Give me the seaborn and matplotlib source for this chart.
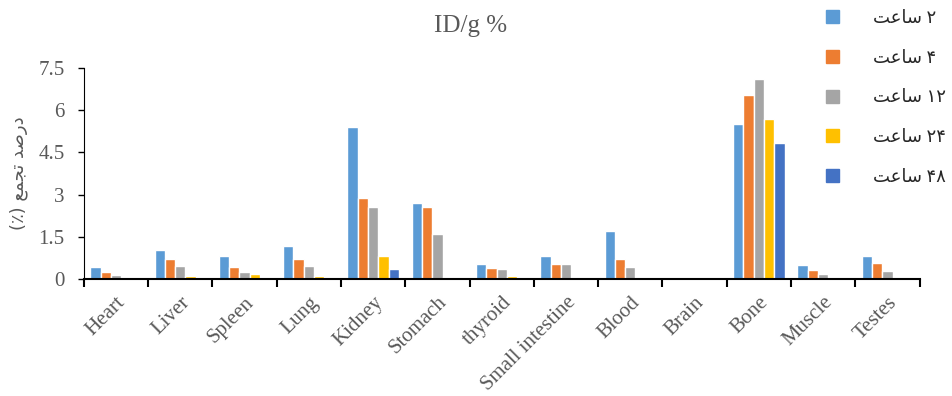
import pandas as pd
import matplotlib
matplotlib.use("Agg")
import matplotlib.pyplot as plt
import seaborn as sns
import numpy as np

# organs on the x axis
organs = ['Heart', 'Liver', 'Spleen', 'Lung', 'Kidney', 'Stomach', 'thyroid',
          'Small intestine', 'Blood', 'Brain', 'Bone', 'Muscle', 'Testes']

# %ID/g per time point
h2 = [0.43, 1.03, 0.82, 1.17, 5.41, 2.70, 0.53, 0.82, 1.70, 0.04, 5.50, 0.50, 0.80]
h4 = [0.25, 0.71, 0.43, 0.71, 2.88, 2.57, 0.40, 0.54, 0.71, 0.02, 6.55, 0.32, 0.56]
h12 = [0.15, 0.47, 0.25, 0.46, 2.56, 1.60, 0.35, 0.55, 0.44, 0.01, 7.10, 0.18, 0.27]
h24 = [0.02, 0.10, 0.18, 0.10, 0.82, 0.06, 0.10, 0.05, 0.03, 0.00, 5.68, 0.02, 0.05]
h48 = [0.01, 0.02, 0.03, 0.03, 0.36, 0.03, 0.04, 0.00, 0.00, 0.00, 4.83, 0.00, 0.02]

# Persian labels, pre-shaped (presentation forms, visual order) since matplotlib has no bidi
saat = '\uFE96\uFECB\uFE8E\uFEB3'   # ساعت
time_labels = [saat + ' ۲', saat + ' ۴', saat + ' ۱۲', saat + ' ۲۴', saat + ' ۴۸']
ylabel = '(٪) ' + '\uFECA\uFEE4\uFEA0\uFE97' + ' ' + '\uFEAA\uFEBB\uFEAD\uFEA9'  # درصد تجمع (٪)

colors = ['#5B9BD5', '#ED7D31', '#A5A5A5', '#FFC000', '#4472C4']

df = pd.DataFrame({'Organ': organs, time_labels[0]: h2, time_labels[1]: h4,
                   time_labels[2]: h12, time_labels[3]: h24, time_labels[4]: h48})
df_melted = df.melt(id_vars=['Organ'], var_name='Time', value_name='Value')

sns.set_style('white')
plt.rcParams['font.family'] = ['Liberation Serif', 'DejaVu Sans']

fig = plt.figure(figsize=(9.53, 3.96), dpi=100)
ax = fig.add_axes([0.088, 0.2955, 0.877, 0.533])

sns.barplot(data=df_melted, x='Organ', y='Value', hue='Time', palette=colors,
            saturation=1, width=0.8, edgecolor='white', linewidth=1.0, ax=ax,
            legend=False)

ax.set_xlim(-0.5, 12.5)
ax.set_ylim(0, 7.5)
ax.set_yticks([0, 1.5, 3, 4.5, 6, 7.5])
ax.set_yticklabels(['0', '1.5', '3', '4.5', '6', '7.5'])
ax.tick_params(axis='y', direction='out', length=4, width=1, color='black',
               labelsize=15, labelcolor='#595959', left=True, pad=10)

# category boundary ticks (Excel style) + centered labels
ax.set_xticks(np.arange(-0.5, 13, 1))
ax.set_xticklabels([])
ax.set_xticks(np.arange(13), minor=True)
ax.set_xticklabels(organs, minor=True, rotation=45, ha='right', rotation_mode='anchor')
ax.tick_params(axis='x', which='major', direction='out', length=6, width=1.5,
               color='black', bottom=True)
ax.tick_params(axis='x', which='minor', length=0, labelsize=15,
               labelcolor='#595959', pad=10)

for s in ['top', 'right']:
    ax.spines[s].set_visible(False)
ax.spines['left'].set_color('black')
ax.spines['bottom'].set_color('black')
ax.spines['bottom'].set_linewidth(1.5)

ax.set_xlabel('')
ax.set_ylabel(ylabel, fontsize=13, color='#595959', family=['DejaVu Sans'], labelpad=7)

fig.text(0.494, 0.935, 'ID/g %', ha='center', va='center', fontsize=18, color='#595959')

handles = [plt.Rectangle((0, 0), 1, 1, color=c) for c in colors]
fig.legend(handles, time_labels, loc='upper right', bbox_to_anchor=(1.003, 1.0),
           frameon=False, fontsize=13, handlelength=0.72, handleheight=0.72,
           labelspacing=1.26, handletextpad=1.9, borderaxespad=0.0, borderpad=0.55)

fig.savefig('out.png', dpi=100)
